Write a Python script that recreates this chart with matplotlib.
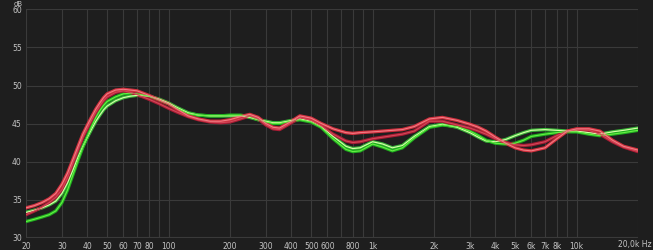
import numpy as np
import matplotlib.pyplot as plt

# frequenze (Hz)
freq = [20, 22, 24, 26, 28, 30, 32, 34, 36, 38, 40, 42, 44, 46, 48, 50, 55, 60, 65, 70,
        80, 90, 100, 110, 125, 140, 160, 180, 200, 225, 250, 275, 300, 325, 350, 400,
        440, 500, 560, 640, 740, 800, 870, 1000, 1120, 1250, 1400, 1600, 1900, 2200,
        2600, 3000, 3300, 3600, 4000, 4500, 5000, 5500, 6000, 7000, 8000, 9000, 10000,
        11500, 13000, 15000, 17000, 20000]

rosso_1 = [33.9, 34.2, 34.6, 35.1, 35.8, 37.0, 38.5, 40.3, 42.0, 43.6, 44.8, 45.9, 46.9,
           47.7, 48.4, 48.9, 49.4, 49.5, 49.4, 49.3, 48.7, 48.1, 47.6, 46.9, 46.0, 45.6,
           45.3, 45.3, 45.5, 45.9, 46.2, 45.8, 45.0, 44.5, 44.4, 45.3, 46.0, 45.7, 45.0,
           44.3, 43.8, 43.7, 43.8, 43.9, 44.0, 44.1, 44.2, 44.6, 45.6, 45.8, 45.4, 44.9,
           44.5, 44.0, 43.2, 42.4, 41.8, 41.5, 41.4, 41.8, 43.0, 44.0, 44.3, 44.3, 44.0,
           42.8, 42.0, 41.5]
rosso_2 = [33.0, 33.5, 34.0, 34.6, 35.3, 36.3, 37.9, 39.8, 41.6, 43.2, 44.4, 45.5, 46.5,
           47.3, 48.0, 48.5, 49.1, 49.3, 49.1, 48.8, 48.2, 47.6, 47.0, 46.5, 45.9, 45.5,
           45.2, 45.1, 45.2, 45.6, 46.0, 45.6, 44.8, 44.3, 44.2, 45.1, 45.8, 45.4, 44.7,
           43.6, 42.7, 42.5, 42.6, 43.0, 43.2, 43.4, 43.6, 44.0, 45.3, 45.3, 44.8, 44.4,
           44.0, 43.6, 43.0, 42.5, 42.2, 42.1, 42.2, 42.6, 43.4, 44.0, 44.2, 44.1, 43.6,
           42.6, 41.9, 41.3]
verde_1 = [32.1, 32.4, 32.7, 33.0, 33.5, 34.6, 36.3, 38.3, 40.2, 41.9, 43.3, 44.6, 45.8,
           46.7, 47.4, 47.9, 48.5, 48.9, 49.0, 48.9, 48.6, 48.1, 47.6, 47.0, 46.3, 46.1,
           46.0, 46.0, 46.1, 46.1, 45.9, 45.5, 45.2, 45.0, 45.0, 45.3, 45.5, 45.2, 44.5,
           43.0, 41.6, 41.3, 41.4, 42.3, 41.9, 41.4, 41.8, 43.1, 44.5, 44.8, 44.6, 44.0,
           43.4, 42.8, 42.4, 42.3, 42.4, 42.8, 43.3, 43.6, 43.8, 43.9, 43.9, 43.6, 43.4,
           43.6, 43.8, 44.1]
verde_2 = [33.3, 33.6, 33.9, 34.3, 34.8, 35.8, 37.2, 38.9, 40.6, 42.0, 43.2, 44.3, 45.3,
           46.1, 46.8, 47.3, 48.0, 48.4, 48.6, 48.7, 48.6, 48.2, 47.7, 47.1, 46.4, 46.1,
           46.0, 46.0, 46.0, 46.0, 45.8, 45.5, 45.3, 45.1, 45.1, 45.4, 45.6, 45.3, 44.6,
           43.3, 42.0, 41.7, 41.8, 42.6, 42.3, 41.8, 42.1, 43.3, 44.6, 44.9, 44.5, 43.8,
           43.2, 42.7, 42.6, 42.9, 43.4, 43.8, 44.1, 44.2, 44.1, 44.0, 44.0, 43.8, 43.6,
           43.9, 44.1, 44.4]

tick_freq = [20, 30, 40, 50, 60, 70, 80, 100, 200, 300, 400, 500, 600, 800, 1000,
             2000, 3000, 4000, 5000, 6000, 7000, 8000, 10000]
tick_lab = ['20', '30', '40', '50', '60', '70', '80', '100', '200', '300', '400', '500',
            '600', '800', '1k', '2k', '3k', '4k', '5k', '6k', '7k', '8k', '10k']
db_ticks = [30, 35, 40, 45, 50, 55, 60]

SFONDO = '#1e1e1e'
GRIGLIA = '#3a3a3a'
TESTO = '#c4c4c4'

fig = plt.figure(figsize=(6.53, 2.5), dpi=100, facecolor=SFONDO)
ax = fig.add_axes([26 / 653, 1 - 237.5 / 250, (638 - 26) / 653, (237.5 - 9.5) / 250])
ax.set_facecolor(SFONDO)

# griglia verticale su tutte le frequenze (decadi)
griglia_f = [m * 10 ** e for e in range(1, 5) for m in range(1, 10)]
griglia_f = [f for f in griglia_f if 20 <= f <= 20000]
for f in griglia_f:
    ax.axvline(f, color=GRIGLIA, lw=0.8, zorder=0)
for d in db_ticks:
    ax.axhline(d, color=GRIGLIA, lw=0.8, zorder=0)

curve = [
    (verde_2, '#3cb83c', '#d8ffa8'),
    (verde_1, '#1fae1f', '#66ee44'),
    (rosso_2, '#a81c34', '#d24858'),
    (rosso_1, '#d0303e', '#f07c84'),
]
for val, col_est, col_int in curve:
    ax.plot(freq, val, color=col_est, lw=2.4, solid_capstyle='round',
            solid_joinstyle='round', zorder=2)
    ax.plot(freq, val, color=col_int, lw=0.8, solid_joinstyle='round', zorder=3)

ax.set_xscale('log')
ax.set_xlim(20, 20000)
ax.set_ylim(30, 60)
ax.set_xticks(tick_freq)
ax.set_xticklabels(tick_lab)
ax.xaxis.set_minor_locator(plt.NullLocator())
ax.set_yticks(db_ticks)
ax.tick_params(colors=TESTO, labelsize=5.5, length=0, pad=3)
for s in ax.spines.values():
    s.set_visible(False)

fig.text(652 / 653, 1 - 244 / 250, '20,0k Hz', color=TESTO, fontsize=5.5,
         va='center', ha='right')
fig.text(14 / 653, 1 - 0.5 / 250, 'dB', color=TESTO, fontsize=5, va='top', ha='left')

fig.savefig('out.png', dpi=100, facecolor=SFONDO)
